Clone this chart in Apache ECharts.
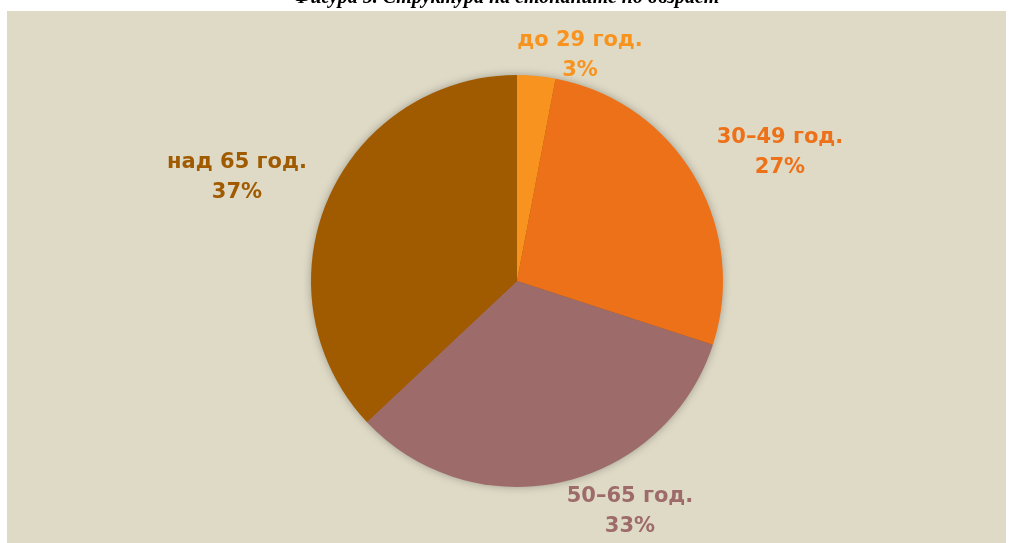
<!DOCTYPE html>
<html>
<head>
<meta charset="utf-8">
<script src="https://cdn.jsdelivr.net/npm/echarts@6/dist/echarts.min.js"></script>
<style>
  html, body { margin: 0; padding: 0; background: #ffffff; }
  #main { width: 1013px; height: 543px; }
</style>
</head>
<body>
<div id="main"></div>
<script>
// age groups and their shares (%)
var groups = ['до 29 год.', '30–49 год.', '50–65 год.', 'над 65 год.'];
var shares = [3, 27, 33, 37];
var colors = ['#F7931E', '#EC7118', '#9E6B6B', '#A05A00'];

// label centres (px), one per slice
var labelPos = [[580, 56], [780, 153], [630, 512], [237, 178]];

var myChart = echarts.init(document.getElementById('main'));

var data = [];
for (var i = 0; i < groups.length; i++) {
    data.push({
        value: shares[i],
        name: groups[i],
        itemStyle: { color: colors[i] },
        label: { color: colors[i] }
    });
}

option = {
    backgroundColor: '#ffffff',
    graphic: [
        {
            type: 'rect',
            z: -10,
            shape: { x: 7, y: 11, width: 999, height: 540 },
            style: { fill: '#DFDAC6' }
        },
        {
            type: 'text',
            z: -20,
            left: 'center',
            top: -12,
            style: {
                text: 'Фигура 5. Структура на стопаните по възраст',
                font: 'italic bold 20px "Liberation Serif"',
                fill: '#000'
            }
        }
    ],
    series: [
        {
            // soft shadow behind the whole disc
            type: 'pie',
            radius: 205,
            center: [517, 281],
            silent: true,
            animation: false,
            z: 1,
            label: { show: false },
            labelLine: { show: false },
            data: [{ value: 1, itemStyle: { color: '#A05A00' } }],
            itemStyle: {
                shadowBlur: 10,
                shadowColor: 'rgba(0, 0, 0, 0.35)'
            }
        },
        {
            name: 'възраст',
            type: 'pie',
            radius: 206,
            center: [517, 281],
            startAngle: 90,
            clockwise: true,
            animation: false,
            z: 2,
            data: data,
            label: {
                show: true,
                position: 'outside',
                formatter: '{b}\n{d}%',
                fontFamily: '"DejaVu Sans"',
                fontWeight: 'bold',
                fontSize: 21,
                lineHeight: 30,
                align: 'center'
            },
            labelLine: { show: false },
            labelLayout: function (params) {
                var p = labelPos[params.dataIndex];
                return {
                    x: p[0],
                    y: p[1],
                    align: 'center',
                    verticalAlign: 'middle'
                };
            }
        }
    ]
};

myChart.setOption(option);
</script>
</body>
</html>
